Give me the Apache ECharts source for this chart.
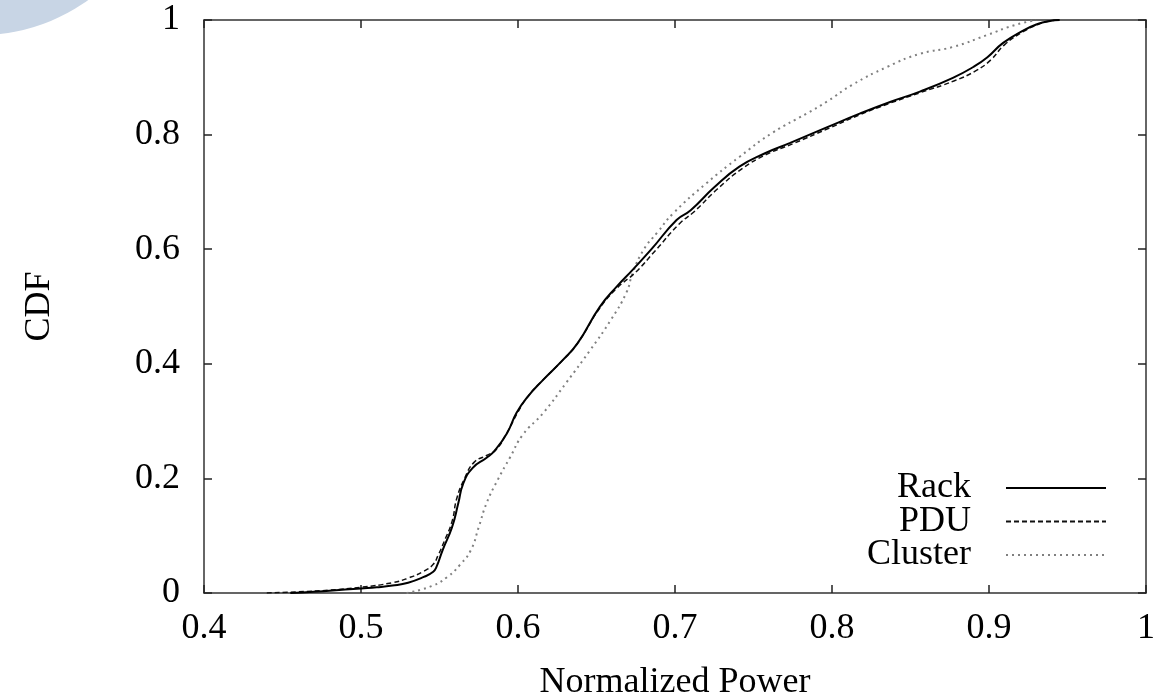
<!DOCTYPE html>
<html>
<head>
<meta charset="utf-8">
<script src="https://cdn.jsdelivr.net/npm/echarts@6/dist/echarts.min.js"></script>
<style>
  html, body { margin: 0; padding: 0; background: #fff; }
  #chart { width: 1172px; height: 695px; }
</style>
</head>
<body>
<div id="chart"></div>
<script>
// CDF of normalized power at three aggregation levels
const rackX = [0.455, 0.47, 0.49, 0.50, 0.51, 0.52, 0.53, 0.54, 0.546, 0.548, 0.552, 0.558, 0.562, 0.565, 0.571, 0.58, 0.585, 0.593, 0.599, 0.606, 0.616, 0.628, 0.638, 0.652, 0.663, 0.673, 0.685, 0.701, 0.710, 0.725, 0.741, 0.757, 0.773, 0.797, 0.818, 0.837, 0.856, 0.877, 0.890, 0.899, 0.909, 0.922, 0.931, 0.938, 0.945];
const rackY = [0, 0.002, 0.006, 0.008, 0.010, 0.013, 0.018, 0.028, 0.037, 0.045, 0.075, 0.115, 0.157, 0.19, 0.218, 0.236, 0.248, 0.279, 0.314, 0.342, 0.372, 0.405, 0.436, 0.499, 0.535, 0.564, 0.600, 0.651, 0.668, 0.708, 0.744, 0.767, 0.785, 0.813, 0.837, 0.857, 0.875, 0.899, 0.918, 0.935, 0.96, 0.982, 0.993, 0.998, 1.0];

const pduX = [0.44, 0.46, 0.48, 0.50, 0.52, 0.53, 0.54, 0.546, 0.549, 0.553, 0.558, 0.561, 0.566, 0.572, 0.58, 0.586, 0.593, 0.60, 0.606, 0.616, 0.628, 0.638, 0.652, 0.663, 0.675, 0.687, 0.703, 0.712, 0.727, 0.743, 0.758, 0.775, 0.798, 0.818, 0.837, 0.856, 0.878, 0.892, 0.901, 0.910, 0.922, 0.931, 0.938, 0.945];
const pduY = [0, 0.002, 0.005, 0.010, 0.018, 0.026, 0.038, 0.05, 0.065, 0.09, 0.125, 0.165, 0.2, 0.228, 0.24, 0.25, 0.28, 0.316, 0.342, 0.372, 0.405, 0.436, 0.497, 0.532, 0.56, 0.596, 0.645, 0.665, 0.705, 0.741, 0.765, 0.784, 0.811, 0.835, 0.855, 0.873, 0.894, 0.912, 0.93, 0.957, 0.98, 0.992, 0.998, 1.0];

const clusterX = [0.529, 0.545, 0.555, 0.563, 0.570, 0.575, 0.580, 0.587, 0.595, 0.603, 0.616, 0.631, 0.646, 0.659, 0.669, 0.673, 0.680, 0.689, 0.699, 0.720, 0.741, 0.762, 0.784, 0.797, 0.813, 0.835, 0.856, 0.877, 0.899, 0.915, 0.93];
const clusterY = [0, 0.012, 0.028, 0.049, 0.075, 0.115, 0.157, 0.197, 0.237, 0.276, 0.314, 0.368, 0.424, 0.476, 0.524, 0.558, 0.599, 0.63, 0.663, 0.715, 0.761, 0.803, 0.837, 0.858, 0.887, 0.918, 0.941, 0.953, 0.974, 0.99, 1.0];

const seriesNames = ['Rack', 'PDU', 'Cluster'];

const FONT = 'Liberation Serif';
const zip = (xs, ys) => xs.map((x, i) => [x, ys[i]]);

const frameLine = { show: true, onZero: false, lineStyle: { color: '#333', width: 1.5 } };
const inTick = { show: true, inside: true, length: 8, lineStyle: { color: '#222', width: 1.5 } };

const chart = echarts.init(document.getElementById('chart'), null, { renderer: 'canvas' });
chart.setOption({
  animation: false,
  backgroundColor: '#fff',
  graphic: [{
    type: 'circle', z: -10, silent: true,
    shape: { cx: -20, cy: -150, r: 185 },
    style: { fill: '#c8d5e5' }
  }],
  grid: { left: 204, right: 26, top: 20, bottom: 102, containLabel: false, outerBoundsMode: 'none' },
  legend: {
    orient: 'vertical', right: 60, top: 465, align: 'right',
    itemWidth: 100, itemHeight: 14, itemGap: -2.5,
    data: seriesNames,
    itemStyle: { opacity: 0 },
    textStyle: { fontFamily: FONT, fontSize: 36, lineHeight: 32, color: '#000', padding: [0, 30, 0, 0] }
  },
  xAxis: [{
    type: 'value', min: 0.4, max: 1, interval: 0.1, position: 'bottom',
    name: 'Normalized Power', nameLocation: 'middle', nameGap: 72,
    nameTextStyle: { fontFamily: FONT, fontSize: 36, color: '#000' },
    axisLine: frameLine, axisTick: inTick, splitLine: { show: false },
    axisLabel: { fontFamily: FONT, fontSize: 36, color: '#000', margin: 18 }
  }, {
    type: 'value', min: 0.4, max: 1, interval: 0.1, position: 'top',
    axisLine: frameLine, axisTick: inTick, splitLine: { show: false },
    axisLabel: { show: false }
  }],
  yAxis: [{
    type: 'value', min: 0, max: 1, interval: 0.2, position: 'left',
    name: 'CDF', nameLocation: 'middle', nameGap: 146,
    nameTextStyle: { fontFamily: FONT, fontSize: 36, color: '#000' },
    axisLine: frameLine, axisTick: inTick, splitLine: { show: false },
    axisLabel: { fontFamily: FONT, fontSize: 36, color: '#000', margin: 24 }
  }, {
    type: 'value', min: 0, max: 1, interval: 0.2, position: 'right',
    axisLine: frameLine, axisTick: inTick, splitLine: { show: false },
    axisLabel: { show: false }
  }],
  series: [{
    name: 'Rack', type: 'line', xAxisIndex: 0, yAxisIndex: 0,
    data: zip(rackX, rackY), symbol: 'none', smooth: 0.5,
    lineStyle: { color: '#000', width: 2, type: 'solid' }, itemStyle: { color: '#000' }, z: 3
  }, {
    name: 'PDU', type: 'line', xAxisIndex: 0, yAxisIndex: 0,
    data: zip(pduX, pduY), symbol: 'none', smooth: 0.5,
    lineStyle: { color: '#111', width: 1.5, type: [5, 3] }, itemStyle: { color: '#111' }, z: 2
  }, {
    name: 'Cluster', type: 'line', xAxisIndex: 0, yAxisIndex: 0,
    data: zip(clusterX, clusterY), symbol: 'none', smooth: 0.5,
    lineStyle: { color: '#808080', width: 2, type: [2, 4] }, itemStyle: { color: '#808080' }, z: 1
  }]
});
</script>
</body>
</html>
